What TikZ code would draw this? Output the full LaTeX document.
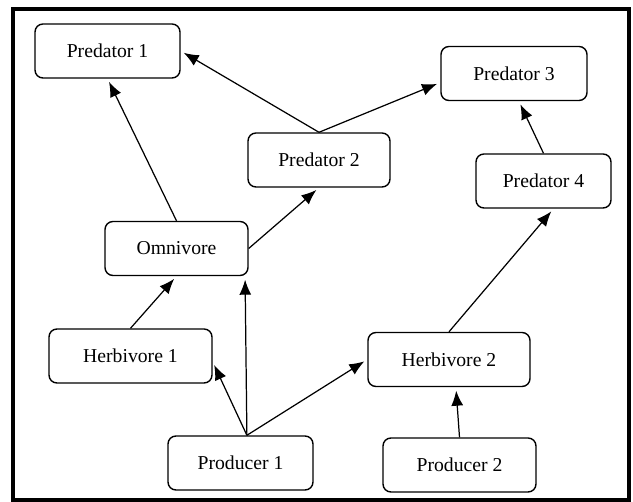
\documentclass[tikz,border=0pt]{standalone}
\usepackage{fontspec}
\setmainfont{Liberation Serif}
\usetikzlibrary{arrows.meta}

\begin{document}
\begin{tikzpicture}[
 x=0.02cm,y=-0.02cm,
 box/.style={draw,rounded corners=4.5pt,align=center,line width=0.8pt,
   font=\fontsize{11.2}{13}\selectfont,minimum height=1.08cm,inner sep=2pt},
 arr/.style={-{Latex[length=3mm,width=2.4mm]},line width=0.7pt,shorten >=2pt}
]
\useasboundingbox (0,0) rectangle (633,502);
\draw[line width=2pt] (13,9) rectangle (629,500);
\node[box,minimum width=2.9cm] (pred1) at (107.5,51) {Predator 1};
\node[box,minimum width=2.84cm] (pred2) at (319,160) {Predator 2};
\node[box,minimum width=2.92cm] (pred3) at (514,73.5) {Predator 3};
\node[box,minimum width=2.7cm] (pred4) at (543.5,181) {Predator 4};
\node[box,minimum width=2.86cm] (omni) at (176.5,248.5) {Omnivore};
\node[box,minimum width=3.26cm] (herb1) at (130.5,356) {Herbivore 1};
\node[box,minimum width=3.24cm] (herb2) at (449,359.5) {Herbivore 2};
\node[box,minimum width=2.9cm] (prod1) at (240.5,463) {Producer 1};
\node[box,minimum width=3.06cm] (prod2) at (459.5,465) {Producer 2};
\draw[arr] (omni.north) -- (pred1.south);
\draw[arr] (pred2.north) -- (pred1.east);
\draw[arr] (pred2.north) -- (pred3.187);
\draw[arr] (omni.east) -- (pred2.south);
\draw[arr] (pred4.north) -- (pred3.-80);
\draw[arr] (herb2.north) -- (pred4.-70);
\draw[arr] (herb1.north) -- (omni.south);
\draw[arr] (prod1.77) -- (omni.-22);
\draw[arr] (prod1.77) -- (herb1.-4);
\draw[arr] (prod1.77) -- (herb2.west);
\draw[arr] (prod2.north) -- (herb2.-76);
\end{tikzpicture}
\end{document}
